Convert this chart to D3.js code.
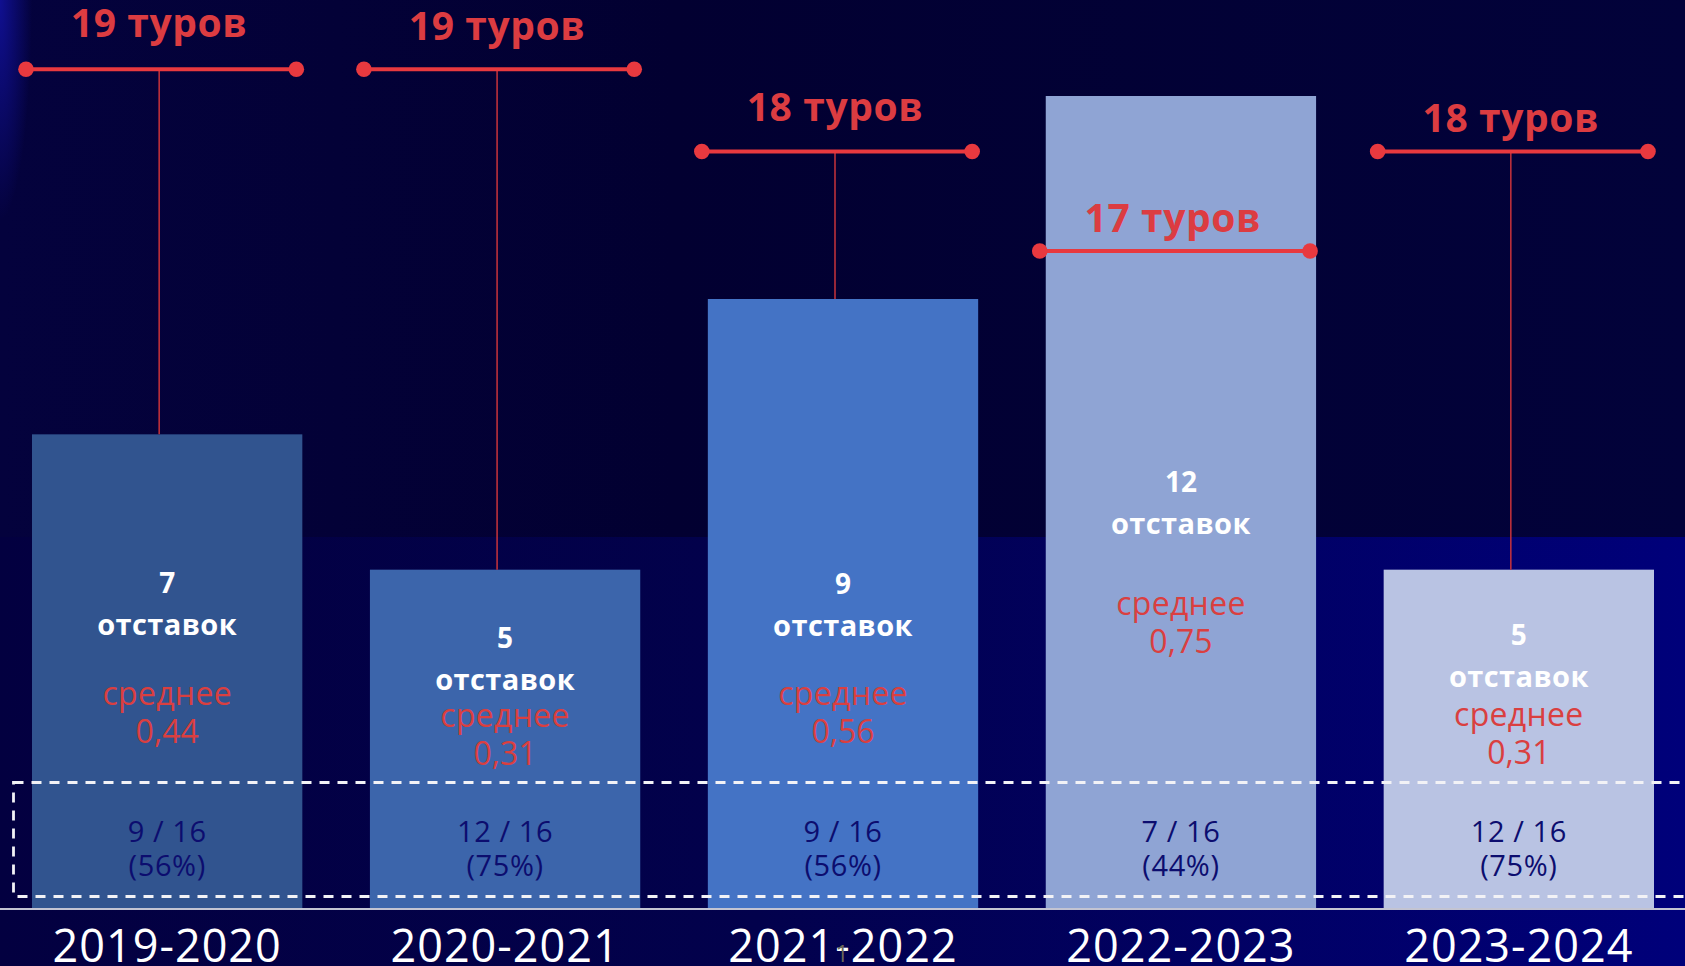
<!DOCTYPE html>
<html>
<head>
<meta charset="utf-8">
<script src="https://cdn.jsdelivr.net/npm/d3@7"></script>
<style>
  html, body { margin: 0; padding: 0; background: #020034; overflow: hidden; }
  svg { display: block; }
  text { font-family: "Open Sans", "Noto Sans", sans-serif; }
</style>
</head>
<body>
<div id="chart"></div>
<script>
// Seasons and per-season figures
const seasons = ["2019-2020", "2020-2021", "2021-2022", "2022-2023", "2023-2024"];
const resignations = [7, 5, 9, 12, 5];
const rounds = [19, 19, 18, 17, 18];
const averages = [0.44, 0.31, 0.56, 0.75, 0.31];
const clubsChanged = [9, 12, 9, 7, 12];
const clubsTotal = 16;
const barColors = ["#31548f", "#3c65ab", "#4473c5", "#8fa4d4", "#b9c3e3"];

// Text layout inside each bar (baseline of the count, gap to the "среднее" line)
const countBaseline = [593, 648, 594, 492, 645];
const meanGap = [70, 37, 69, 81, 39];
const roundLabelLift = [32, 29, 31, 19, 20];

const W = 1685, H = 966;
const baseY = 908;

const fmt = d3.formatLocale({ decimal: ",", thousands: " ", grouping: [3], currency: ["", ""] }).format(".2f");

const svg = d3.select("#chart").append("svg")
  .attr("width", W).attr("height", H)
  .attr("viewBox", `0 0 ${W} ${H}`);

// Background
const defs = svg.append("defs");
const gTop = defs.append("linearGradient").attr("id", "bgTop").attr("x1", 0).attr("x2", 1).attr("y1", 0).attr("y2", 0);
gTop.append("stop").attr("offset", 0).attr("stop-color", "#04023d");
gTop.append("stop").attr("offset", 0.4).attr("stop-color", "#020031");
gTop.append("stop").attr("offset", 1).attr("stop-color", "#02023a");
const gBot = defs.append("linearGradient").attr("id", "bgBottom").attr("x1", 0).attr("x2", 1).attr("y1", 0).attr("y2", 0);
gBot.append("stop").attr("offset", 0).attr("stop-color", "#030040");
gBot.append("stop").attr("offset", 0.45).attr("stop-color", "#02014c");
gBot.append("stop").attr("offset", 1).attr("stop-color", "#00007a");
const glow = defs.append("radialGradient").attr("id", "glow");
glow.append("stop").attr("offset", 0).attr("stop-color", "#1212a0").attr("stop-opacity", 0.85);
glow.append("stop").attr("offset", 1).attr("stop-color", "#1212a0").attr("stop-opacity", 0);

svg.append("rect").attr("width", W).attr("height", 537).attr("fill", "url(#bgTop)");
svg.append("rect").attr("y", 537).attr("width", W).attr("height", H - 537).attr("fill", "url(#bgBottom)");
svg.append("ellipse").attr("cx", 0).attr("cy", 0).attr("rx", 32).attr("ry", 220).attr("fill", "url(#glow)");

// Scales
const x = d3.scaleBand().domain(seasons).range([32, 1654]).paddingInner(0.2).paddingOuter(0);
const y = d3.scaleLinear().domain([0, 12]).range([baseY, 96]);
const yRounds = d3.scaleLinear().domain([17, 18, 19]).range([251, 151.5, 69.3]);

const rows = seasons.map((s, i) => ({
  season: s, i,
  res: resignations[i], rounds: rounds[i], avg: averages[i],
  changed: clubsChanged[i], color: barColors[i]
}));

// Bars
svg.append("g").selectAll("rect").data(rows).join("rect")
  .attr("x", d => x(d.season))
  .attr("y", d => y(d.res))
  .attr("width", x.bandwidth())
  .attr("height", d => baseY - y(d.res))
  .attr("fill", d => d.color);

// Baseline
svg.append("line").attr("x1", 0).attr("x2", W).attr("y1", baseY + 1).attr("y2", baseY + 1)
  .attr("stroke", "#c3c4d2").attr("stroke-width", 2);

// Dashed frame around the "clubs changed" row
svg.append("rect").attr("x", 13.5).attr("y", 782.5).attr("width", W + 20).attr("height", 114)
  .attr("fill", "none").attr("stroke", "#f2f2f6").attr("stroke-width", 2.8)
  .attr("stroke-dasharray", "10 8");

// Round brackets
const bracketShift = -6;
const br = svg.append("g").selectAll("g").data(rows).join("g");
br.filter(d => yRounds(d.rounds) < y(d.res)).append("line")
  .attr("x1", d => x(d.season) + x.bandwidth() / 2 + bracketShift - 2)
  .attr("x2", d => x(d.season) + x.bandwidth() / 2 + bracketShift - 2)
  .attr("y1", d => yRounds(d.rounds))
  .attr("y2", d => y(d.res))
  .attr("stroke", "#c9333b").attr("stroke-width", 1.5);
br.append("line")
  .attr("x1", d => x(d.season) + bracketShift)
  .attr("x2", d => x(d.season) + x.bandwidth() + bracketShift)
  .attr("y1", d => yRounds(d.rounds))
  .attr("y2", d => yRounds(d.rounds))
  .attr("stroke", "#e8393f").attr("stroke-width", 4);
br.selectAll("circle").data(d => [d, d].map((v, k) => ({ d: v, k }))).join("circle")
  .attr("cx", o => x(o.d.season) + bracketShift + (o.k ? x.bandwidth() : 0))
  .attr("cy", o => yRounds(o.d.rounds))
  .attr("r", 7.8)
  .attr("fill", "#e8393f");
br.append("text")
  .attr("x", d => x(d.season) + x.bandwidth() / 2 + bracketShift - 2)
  .attr("y", d => yRounds(d.rounds) - roundLabelLift[d.i])
  .attr("text-anchor", "middle")
  .attr("font-size", 39).attr("font-weight", 700).attr("letter-spacing", 0.6)
  .attr("fill", "#dc3c41")
  .text(d => `${d.rounds} туров`);

// Labels inside bars
const inner = svg.append("g").selectAll("g").data(rows).join("g")
  .attr("transform", d => `translate(${x(d.season) + x.bandwidth() / 2},0)`)
  .attr("text-anchor", "middle");
inner.append("text").attr("y", d => countBaseline[d.i])
  .attr("font-size", 28).attr("font-weight", 700).attr("fill", "#ffffff")
  .text(d => d.res);
inner.append("text").attr("y", d => countBaseline[d.i] + 42)
  .attr("font-size", 29).attr("font-weight", 700).attr("fill", "#ffffff").attr("letter-spacing", 0.4)
  .text("отставок");
inner.append("text").attr("y", d => countBaseline[d.i] + 42 + meanGap[d.i])
  .attr("font-size", 32).attr("fill", "#da3f40").attr("letter-spacing", 0.3)
  .text("среднее");
inner.append("text").attr("y", d => countBaseline[d.i] + 42 + meanGap[d.i] + 38)
  .attr("font-size", 32).attr("fill", "#da3f40")
  .text(d => fmt(d.avg));
inner.append("text").attr("y", 842)
  .attr("font-size", 29).attr("fill", "#0c0d6f").attr("letter-spacing", 0.6)
  .text(d => `${d.changed} / ${clubsTotal}`);
inner.append("text").attr("y", 876)
  .attr("font-size", 29).attr("fill", "#0c0d6f").attr("letter-spacing", 0.6)
  .text(d => `(${Math.round(d.changed / clubsTotal * 100)}%)`);

// Season axis
const axis = svg.append("g").attr("transform", `translate(0,${baseY})`)
  .call(d3.axisBottom(x).tickSize(0).tickSizeOuter(0));
axis.select(".domain").remove();
axis.selectAll("text")
  .attr("y", 54).attr("dy", 0)
  .attr("font-family", "'Open Sans', sans-serif")
  .attr("font-size", 45).attr("font-weight", 500).attr("letter-spacing", 1)
  .attr("fill", "#ffffff");

// Slide number
svg.append("text").attr("x", 842).attr("y", 962).attr("text-anchor", "middle")
  .attr("font-size", 23).attr("fill", "#6c6a58").text("1");
</script>
</body>
</html>
